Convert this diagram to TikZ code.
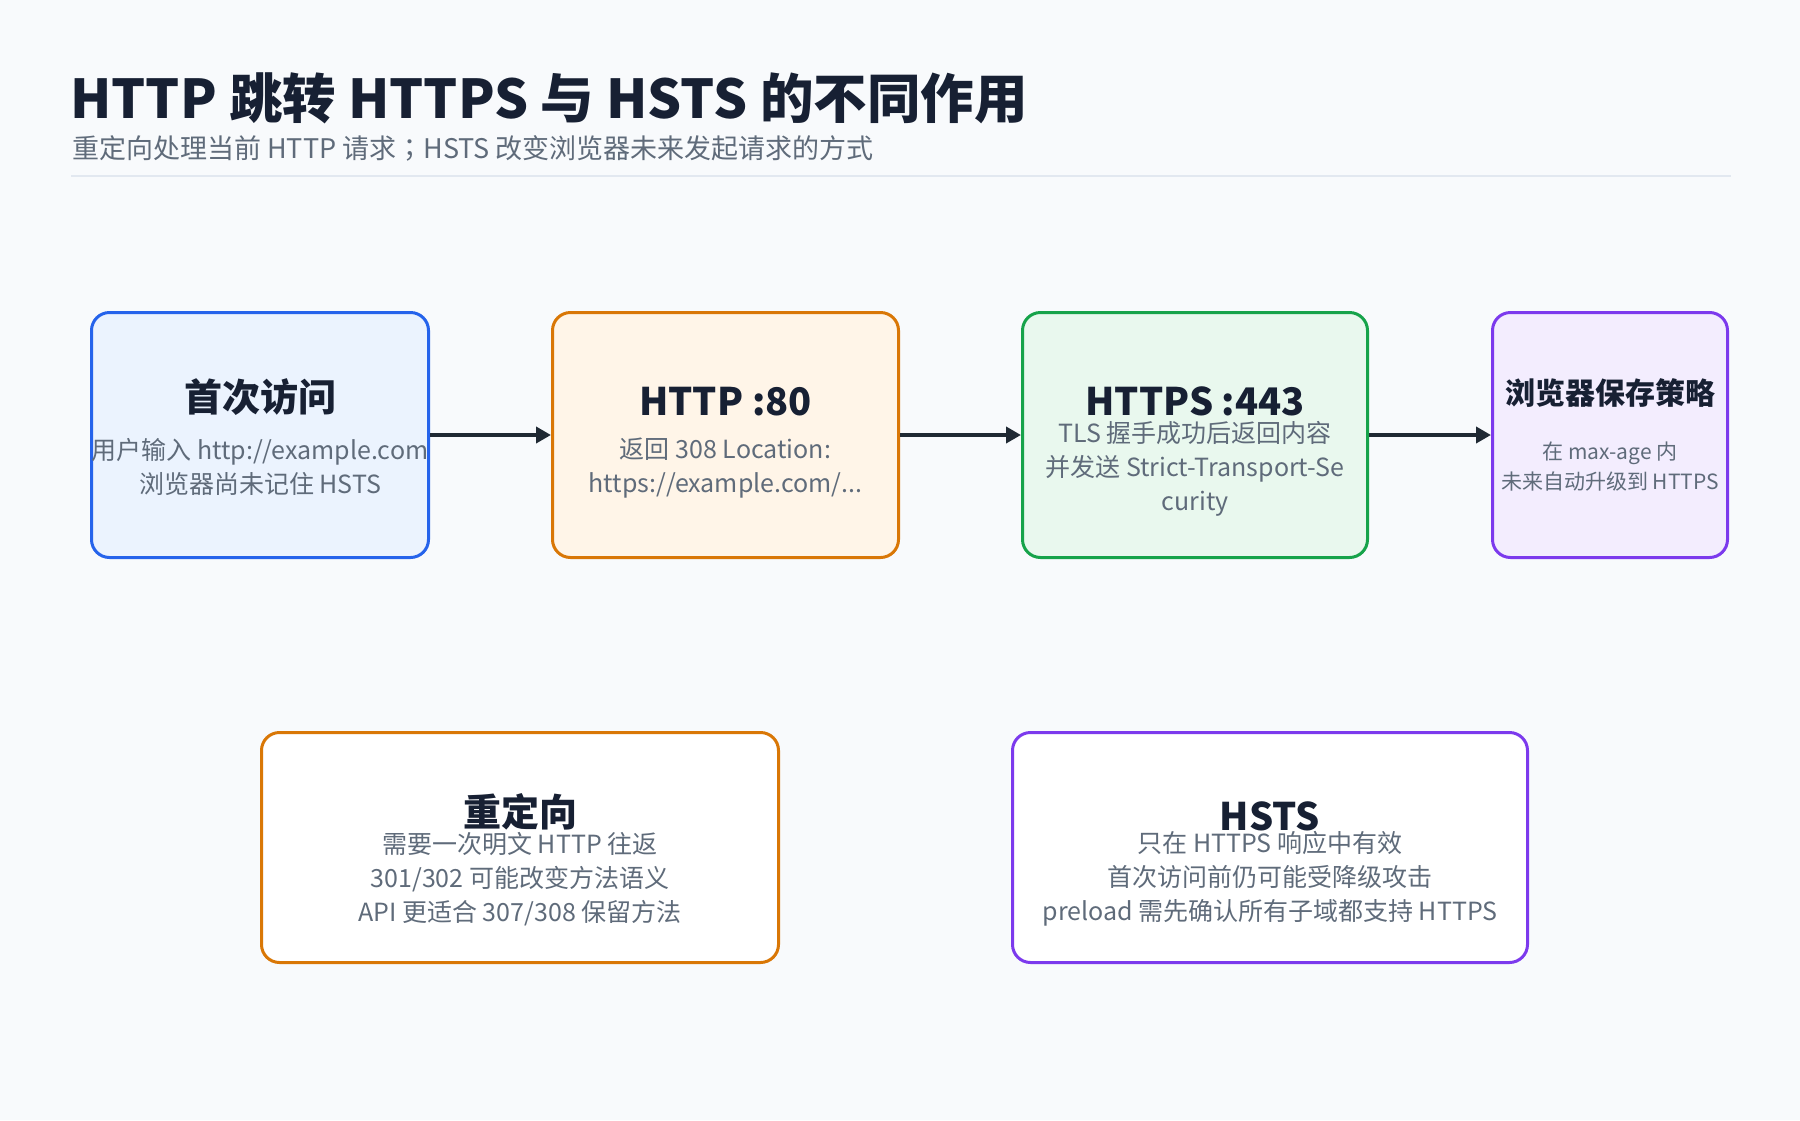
\documentclass[tikz,border=0pt]{standalone}
\usepackage{fontspec}
\setmainfont{Noto Sans CJK SC}
\newfontfamily\puncfont{Noto Sans CJK TC}
\usetikzlibrary{arrows.meta}

\definecolor{pagebg}{HTML}{F8FAFC}
\definecolor{inkdark}{HTML}{172033}
\definecolor{inkmuted}{HTML}{5F6B7A}
\definecolor{rulegray}{HTML}{E2E8F0}
\definecolor{arrowink}{HTML}{1F2933}
\definecolor{bluedraw}{HTML}{2563EB}
\definecolor{bluefill}{HTML}{EBF3FE}
\definecolor{orangedraw}{HTML}{D97706}
\definecolor{orangefill}{HTML}{FFF5E8}
\definecolor{greendraw}{HTML}{16A34A}
\definecolor{greenfill}{HTML}{E9F8EE}
\definecolor{purpledraw}{HTML}{7C3AED}
\definecolor{purplefill}{HTML}{F3EDFE}

\begin{document}
\begin{tikzpicture}[x=1pt, y=-1pt,
    box/.style={rectangle, rounded corners=18pt, line width=3pt, minimum height=245pt},
    lowbox/.style={box, fill=white, minimum height=230pt},
    boxtitle/.style={inner sep=0pt, text=inkdark, font=\bfseries\fontsize{38}{44}\selectfont},
    boxbody/.style={inner sep=0pt, text=inkmuted, align=center, font=\fontsize{25}{34}\selectfont},
    flow/.style={-{Triangle[length=15pt,width=16pt]}, line width=4pt, draw=arrowink}]
    \useasboundingbox (0,0) rectangle (1800,1120);
    \fill[pagebg] (0,0) rectangle (1800,1120);

    % heading
    \node[anchor=base west, inner sep=0pt, text=inkdark, font=\bfseries\fontsize{53.5}{62}\selectfont] (head) at (70,118) {HTTP 跳转 HTTPS 与 HSTS 的不同作用};
    \node[anchor=base west, inner sep=0pt, text=inkmuted, font=\fontsize{27}{32}\selectfont] (subhead) at (72,158) {重定向处理当前 HTTP 请求{\puncfont ；}HSTS 改变浏览器未来发起请求的方式};
    \draw[rulegray, line width=2pt] (71,176) -- (1731,176);

    % flow boxes
    \node[box, draw=bluedraw, fill=bluefill, minimum width=337pt] (visit) at (260,435) {};
    \node[box, draw=orangedraw, fill=orangefill, minimum width=346pt] (http) at (725.5,435) {};
    \node[box, draw=greendraw, fill=greenfill, minimum width=345pt] (https) at (1195,435) {};
    \node[box, draw=purpledraw, fill=purplefill, minimum width=235pt] (store) at (1610,435) {};

    \node[boxtitle] (visitT) at (260,397) {首次访问};
    \node[boxbody] (visitB) at (260,467) {用户输入 http://example.com\\浏览器尚未记住 HSTS};
    \node[boxtitle] (httpT) at (725.5,402) {HTTP :80};
    \node[boxbody] (httpB) at (725.5,468) {返回 308 Location:\\https://example.com/...};
    \node[boxtitle] (httpsT) at (1195,401) {HTTPS :443};
    \node[boxbody] (httpsB) at (1195,468.5) {TLS 握手成功后返回内容\\并发送 Strict-Transport-Se\\curity};
    \node[boxtitle, font=\bfseries\fontsize{30}{36}\selectfont] (storeT) at (1610,393) {浏览器保存策略};
    \node[boxbody, font=\fontsize{21}{30}\selectfont] (storeB) at (1610,467) {在 max-age 内\\未来自动升级到 HTTPS};

    \draw[flow] (visit) -- (http);
    \draw[flow] (http) -- (https);
    \draw[flow] (https) -- (store);

    % comparison boxes
    \node[lowbox, draw=orangedraw, minimum width=517pt] (redir) at (520,847.5) {};
    \node[lowbox, draw=purpledraw, minimum width=515pt] (hsts) at (1270,847.5) {};

    \node[boxtitle] (redirT) at (520,811.5) {重定向};
    \node[boxbody] (redirB) at (520,879) {需要一次明文 HTTP 往返\\301/302 可能改变方法语义\\API 更适合 307/308 保留方法};
    \node[boxtitle] (hstsT) at (1270,816) {HSTS};
    \node[boxbody] (hstsB) at (1270,879) {只在 HTTPS 响应中有效\\首次访问前仍可能受降级攻击\\preload 需先确认所有子域都支持 HTTPS};
\end{tikzpicture}
\end{document}
